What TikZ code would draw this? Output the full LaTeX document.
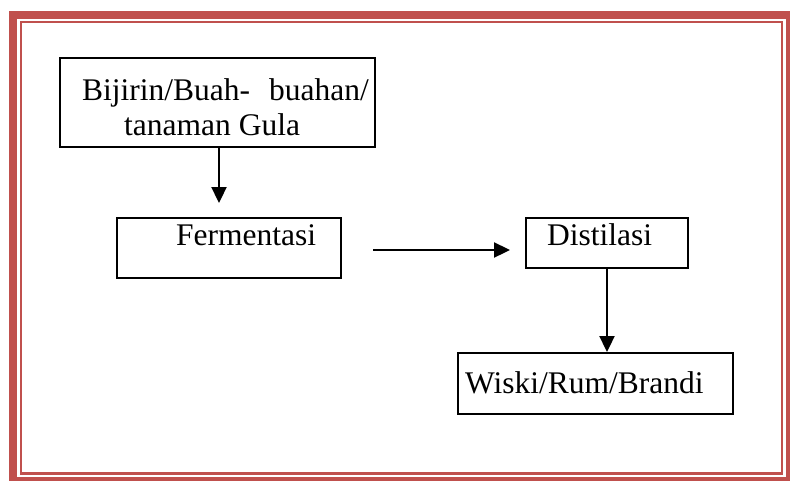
\documentclass[tikz,border=0pt]{standalone}
\usepackage{fontspec}
\setmainfont{Liberation Serif}
\usetikzlibrary{arrows.meta}
\definecolor{frame}{RGB}{192,80,77}
\begin{document}
\begin{tikzpicture}[x=1pt,y=-1pt,
  box/.style={draw=black,line width=2pt,rectangle,inner sep=0pt},
  lbl/.style={anchor=base west,inner sep=0pt,font=\fontsize{31.5}{35}\selectfont},
  arr/.style={line width=2.3pt,-{Triangle[length=16pt,width=15pt]}}]
\useasboundingbox (0,0) rectangle (790,480);
\fill[white] (0,0) rectangle (790,480);
\begin{scope}
\clip (0,0) rectangle (790,480);
\draw[frame,line width=7.6pt] (13,14.7) rectangle (789.4,480.4);
\draw[frame,line width=2.5pt] (20.8,21.8) rectangle (782,473.7);
\end{scope}
% boxes
\node[box,minimum width=315pt,minimum height=89pt] (b1) at (217.5,102.5) {};
\node[box,minimum width=224pt,minimum height=60pt] (b2) at (229,248) {};
\node[box,minimum width=162pt,minimum height=50pt] (b3) at (607,243) {};
\node[box,minimum width=275pt,minimum height=61pt] (b4) at (595.5,383.5) {};
% texts
\node[lbl] (t1a) at (82,100) {Bijirin/Buah-\hspace{19pt}buahan/};
\node[lbl] (t1b) at (124,135) {tanaman Gula};
\node[lbl] (t2) at (176,245) {Fermentasi};
\node[lbl] (t3) at (547,245) {Distilasi};
\node[lbl] (t4) at (465,393) {Wiski/Rum/Brandi};
% connectors
\coordinate (c1) at (219,203);
\draw[arr] (b1.south -| c1) -- (c1);
\coordinate (c2s) at (373,250);
\coordinate (c2e) at (510,250);
\draw[arr] (c2s) -- (c2e);
\draw[arr] (b3.south) -- (b3.south |- b4.north);
\end{tikzpicture}
\end{document}
